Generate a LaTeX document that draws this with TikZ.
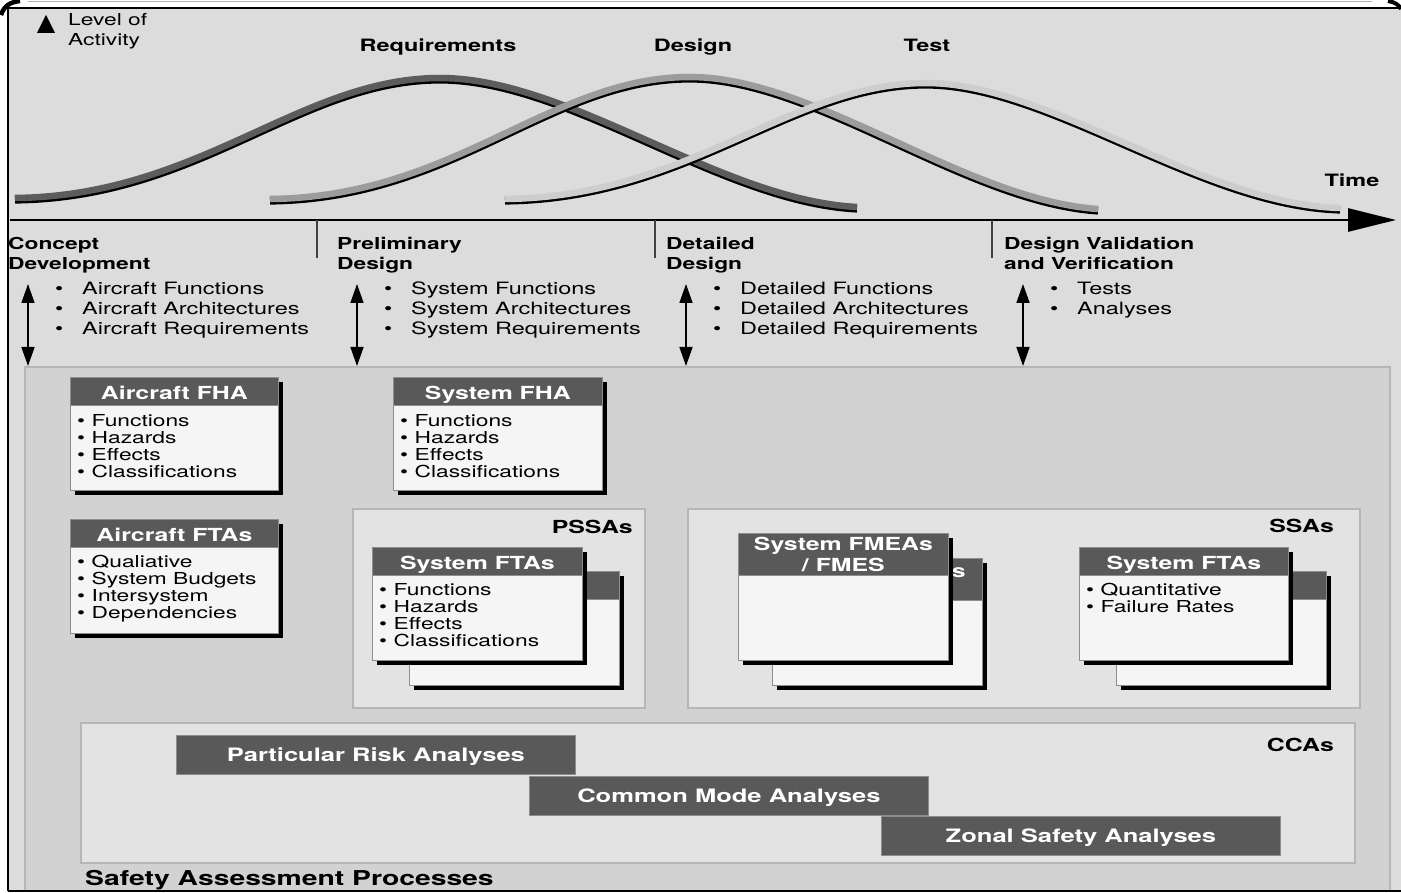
\documentclass[tikz,border=0pt]{standalone}
\usepackage{fontspec}
\setmainfont{TeX Gyre Heros}[FakeStretch=1.38]
\usetikzlibrary{arrows.meta,positioning,shadows}

\definecolor{pagegray}{HTML}{DCDCDC}
\definecolor{sapgray}{HTML}{D2D2D2}
\definecolor{subgray}{HTML}{E3E3E3}
\definecolor{edgegray}{HTML}{B6B6B6}
\definecolor{winbody}{HTML}{F5F5F5}
\definecolor{winhead}{HTML}{595959}
\definecolor{winedge}{HTML}{8E8E8E}
\definecolor{reqgray}{HTML}{5C5C5C}
\definecolor{desgray}{HTML}{9C9C9C}
\definecolor{tstgray}{HTML}{CDCDCD}

\newcommand{\itm}{\makebox[27pt][l]{\textbullet}}
\newcommand{\bitm}{\makebox[14.5pt][l]{\textbullet}}

\begin{document}
\begin{tikzpicture}[x=1pt, y=-1pt,
  phase/.style={anchor=north west, inner sep=0pt, align=left, font=\fontsize{16.5}{20}\selectfont\bfseries},
  items/.style={anchor=north west, inner sep=0pt, align=left, font=\fontsize{17}{20}\selectfont},
  boxitems/.style={anchor=north west, inner sep=0pt, align=left, font=\fontsize{16.5}{17}\selectfont},
  lab/.style={inner sep=0pt, font=\fontsize{17}{20}\selectfont\bfseries},
  panel/.style={draw=edgegray, line width=1.5pt, fill=subgray},
  win/.style={draw=winedge, line width=0.8pt, fill=winbody, anchor=north west, inner sep=0pt,
    drop shadow={shadow xshift=5pt, shadow yshift=-5pt, opacity=1, fill=black}},
  winhead/.style={draw=winedge, line width=0.8pt, fill=winhead, anchor=north west, inner sep=0pt,
    minimum height=28pt, text=white, align=center, font=\fontsize{18}{21}\selectfont\bfseries},
  winbar/.style={winhead, text height=15.5pt, text depth=0pt},
  cca/.style={draw=black!45, line width=0.8pt, fill=winhead, anchor=north west, minimum width=399pt,
    minimum height=39pt, inner sep=0pt, text height=14pt, text depth=0pt, text=white,
    font=\fontsize{18.5}{20}\selectfont\bfseries},
  dbl/.style={{Triangle[length=19pt,width=13pt]}-{Triangle[length=19pt,width=13pt]}, line width=1.6pt},
  ribbon/.style={line width=6.5pt},
  ribbonedge/.style={line width=8pt, black, shift={(0,1.6)}}
]
\useasboundingbox (0,0) rectangle (1401,893);

% page
\fill[white] (0,0) rectangle (1401,893);
\fill[pagegray] (8,8) rectangle (1401,891);
\draw[black!30, line width=1pt] (28,1.5) -- (1372,1.5);

% activity curves
\draw[ribbonedge] (15,198) .. controls (200,196) and (300,78) .. (440,78) .. controls (570,78) and (720,200) .. (857,207);
\draw[ribbon, reqgray] (15,198) .. controls (200,196) and (300,78) .. (440,78) .. controls (570,78) and (720,200) .. (857,207);
\draw[ribbonedge] (270,199) .. controls (455,197) and (550,77) .. (690,77) .. controls (815,77) and (965,200) .. (1098,209);
\draw[ribbon, desgray] (270,199) .. controls (455,197) and (550,77) .. (690,77) .. controls (815,77) and (965,200) .. (1098,209);
\draw[ribbonedge] (505,199) .. controls (690,197) and (790,83) .. (926,83) .. controls (1050,83) and (1200,204) .. (1340,208);
\draw[ribbon, tstgray] (505,199) .. controls (690,197) and (790,83) .. (926,83) .. controls (1050,83) and (1200,204) .. (1340,208);

\fill (37,33) -- (46,15) -- (55,33) -- cycle;
\node[items, font=\fontsize{16.5}{20.5}\selectfont] (level) at (68,13) {Level of\\Activity};
\node[lab, anchor=base] (req) at (438,52) {Requirements};
\node[lab, anchor=base] (des) at (693,52) {Design};
\node[lab, anchor=base] (tst) at (927,52) {Test};
\node[lab, anchor=base] (time) at (1352,187) {Time};

% time axis and phases
\coordinate (t0) at (10,220);
\coordinate (t1) at (1396,220);
\draw[line width=2.8pt, -{Triangle[length=48pt,width=23pt]}] (t0) -- (t1);
\foreach \x in {317,655,992}
  \draw[line width=1.3pt, black!75] (\x,220) -- (\x,258);

\node[phase] (cd) at (8,237) {Concept\\Development};
\node[phase] (pd) at (337,237) {Preliminary\\Design};
\node[phase] (dd) at (666,237) {Detailed\\Design};
\node[phase] (dv) at (1004,237) {Design Validation\\and Verification};

\node[items] (cdl) at (55,282) {\itm Aircraft Functions\\\itm Aircraft Architectures\\\itm Aircraft Requirements};
\node[items] (pdl) at (384,282) {\itm System Functions\\\itm System Architectures\\\itm System Requirements};
\node[items] (ddl) at (713,282) {\itm Detailed Functions\\\itm Detailed Architectures\\\itm Detailed Requirements};
\node[items] (dvl) at (1050,282) {\itm Tests\\\itm Analyses};

% safety assessment panels
\draw[draw=edgegray, line width=1.5pt, fill=sapgray] (25,367) rectangle (1390,891);
\draw[panel] (353,509) rectangle (645,708);
\draw[panel] (688,509) rectangle (1360,708);
\draw[panel] (81,723) rectangle (1355,863);

\foreach \x [count=\i] in {28,357,686,1023} {
  \coordinate (ua\i) at (\x,284);
  \coordinate (ub\i) at (\x,366);
  \draw[dbl] (ua\i) -- (ub\i);
}

\node[lab, anchor=base east, font=\fontsize{18}{20}\selectfont\bfseries] (pssa) at (633,533) {PSSAs};
\node[lab, anchor=base east, font=\fontsize{18}{20}\selectfont\bfseries] (ssa) at (1334,532) {SSAs};
\node[lab, anchor=base east, font=\fontsize{18}{20}\selectfont\bfseries] (ccas) at (1334,751) {CCAs};
\node[lab, anchor=base west, font=\fontsize{20.5}{22}\selectfont\bfseries] (sap) at (85,885) {Safety Assessment Processes};

% Aircraft FHA
\node[win, minimum width=208pt, minimum height=113pt] (afha) at (70,377) {};
\node[winbar, minimum width=208pt] (afhat) at (afha.north west) {Aircraft FHA};
\node[boxitems] (afhal) at ([xshift=7pt,yshift=-37pt]afha.north west) {\bitm Functions\\\bitm Hazards\\\bitm Effects\\\bitm Classifications};

% System FHA
\node[win, minimum width=209pt, minimum height=113pt] (sfha) at (393,377) {};
\node[winbar, minimum width=209pt] (sfhat) at (sfha.north west) {System FHA};
\node[boxitems] (sfhal) at ([xshift=7pt,yshift=-37pt]sfha.north west) {\bitm Functions\\\bitm Hazards\\\bitm Effects\\\bitm Classifications};

% Aircraft FTAs
\node[win, minimum width=208pt, minimum height=114pt] (afta) at (70,519) {};
\node[winbar, minimum width=208pt] (aftat) at (afta.north west) {Aircraft FTAs};
\node[boxitems] (aftal) at ([xshift=7pt,yshift=-36pt]afta.north west) {\bitm Qualiative\\\bitm System Budgets\\\bitm Intersystem\\\bitm Dependencies};

% PSSA system FTAs
\node[win, minimum width=210pt, minimum height=114pt] (pftb) at (409,571) {};
\node[winbar, minimum width=210pt] (pftbt) at (pftb.north west) {};
\node[win, minimum width=210pt, minimum height=113pt] (pft) at (372,547) {};
\node[winbar, minimum width=210pt] (pftt) at (pft.north west) {System FTAs};
\node[boxitems] (pftl) at ([xshift=7pt,yshift=-36pt]pft.north west) {\bitm Functions\\\bitm Hazards\\\bitm Effects\\\bitm Classifications};

% SSA system FMEAs
\node[win, minimum width=210pt, minimum height=127pt] (fmeb) at (772,558) {};
\node[winhead, minimum width=210pt, minimum height=42pt] (fmebt) at (fmeb.north west) {};
\node[inner sep=0pt, anchor=base east, text=white, font=\fontsize{18}{21}\selectfont\bfseries] (fmebs) at (966,577) {s};
\node[win, minimum width=210pt, minimum height=127pt] (fme) at (738,533) {};
\node[winhead, minimum width=210pt, minimum height=42pt] (fmet) at (fme.north west) {System FMEAs\\/ FMES};

% SSA system FTAs
\node[win, minimum width=210pt, minimum height=114pt] (sftb) at (1116,571) {};
\node[winbar, minimum width=210pt] (sftbt) at (sftb.north west) {};
\node[win, minimum width=209pt, minimum height=113pt] (sft) at (1079,547) {};
\node[winbar, minimum width=209pt] (sftt) at (sft.north west) {System FTAs};
\node[boxitems] (sftl) at ([xshift=7pt,yshift=-36pt]sft.north west) {\bitm Quantitative\\\bitm Failure Rates};

% common cause analyses
\node[cca] (pra) at (176,735) {Particular Risk Analyses};
\node[cca] (cma) at (529,776) {Common Mode Analyses};
\node[cca] (zsa) at (881,816) {Zonal Safety Analyses};

% frame
\draw[line width=2pt] (8,891) -- (8,8) -- (1401,8);
\draw[line width=2pt] (8,891) -- (1401,891);
\draw[line width=4.5pt] (1,15) .. controls (4,6) and (10,2) .. (20,1);
\draw[line width=4pt] (1388,1) .. controls (1395,2) and (1399,5) .. (1401,9);
\end{tikzpicture}
\end{document}
